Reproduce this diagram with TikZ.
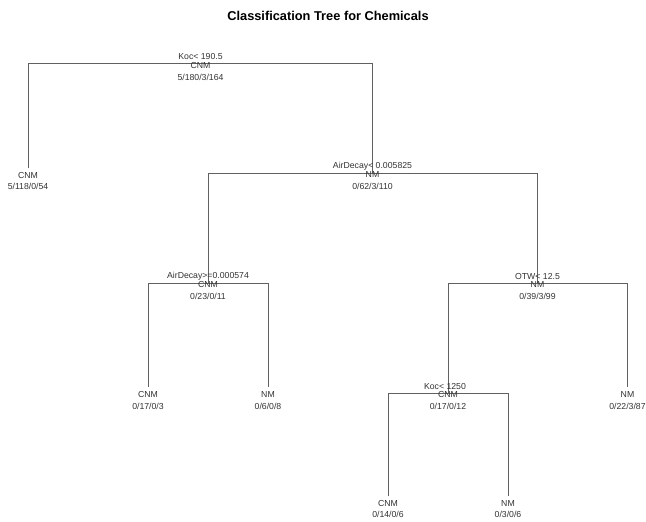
\documentclass[tikz,border=0pt]{standalone}
\usepackage{fontspec}
\setmainfont{Liberation Sans}
\begin{document}
\begin{tikzpicture}[x=1pt,y=-1pt,
  edge/.style={draw=black!62,line width=0.8pt},
  lbl/.style={inner sep=0pt,text=black!80,font=\fontsize{8.7}{9}\selectfont},
  ttl/.style={inner sep=0pt,font=\fontsize{12.8}{14}\selectfont\bfseries}]
\useasboundingbox (0,0) rectangle (646,522);
\node[ttl] (title) at (328,16) {Classification Tree for Chemicals};
% split points
\coordinate (n1) at (200.5,63.5);
\coordinate (n2) at (372.5,173);
\coordinate (n3) at (208,283);
\coordinate (n4) at (537.5,283);
\coordinate (n5) at (448,393.5);
% leaf ends
\coordinate (l1) at (28,168);
\coordinate (l2) at (148,387);
\coordinate (l3) at (268,387);
\coordinate (l4) at (627.5,387);
\coordinate (l5) at (388,496);
\coordinate (l6) at (508,496);
% connectors
\draw[edge] (l1) -- (l1 |- n1) -- (n2 |- n1) -- (n2);
\draw[edge] (n3) -- (n3 |- n2) -- (n4 |- n2) -- (n4);
\draw[edge] (l2) -- (l2 |- n3) -- (l3 |- n3) -- (l3);
\draw[edge] (n5) -- (n5 |- n4) -- (l4 |- n4) -- (l4);
\draw[edge] (l5) -- (l5 |- n5) -- (l6 |- n5) -- (l6);
% internal node labels
\node[lbl] (n1s) at ([yshift=6.5pt]n1) {Koc< 190.5};
\node[lbl] (n1c) at ([yshift=-2pt]n1) {CNM};
\node[lbl] (n1n) at ([yshift=-13.5pt]n1) {5/180/3/164};
\node[lbl] (n2s) at ([yshift=6.5pt]n2) {AirDecay< 0.005825};
\node[lbl] (n2c) at ([yshift=-2pt]n2) {NM};
\node[lbl] (n2n) at ([yshift=-13pt]n2) {0/62/3/110};
\node[lbl] (n3s) at ([yshift=6.5pt]n3) {AirDecay>=0.000574};
\node[lbl] (n3c) at ([yshift=-2pt]n3) {CNM};
\node[lbl] (n3n) at ([yshift=-13pt]n3) {0/23/0/11};
\node[lbl] (n4s) at ([yshift=6.5pt]n4) {OTW< 12.5};
\node[lbl] (n4c) at ([yshift=-2pt]n4) {NM};
\node[lbl] (n4n) at ([yshift=-13pt]n4) {0/39/3/99};
\node[lbl] (n5s) at ([xshift=-3pt,yshift=6.5pt]n5) {Koc< 1250};
\node[lbl] (n5c) at ([yshift=-1.5pt]n5) {CNM};
\node[lbl] (n5n) at ([yshift=-12.5pt]n5) {0/17/0/12};
% leaf labels
\node[lbl] (l1c) at ([yshift=-7.5pt]l1) {CNM};
\node[lbl] (l1n) at ([yshift=-18.5pt]l1) {5/118/0/54};
\node[lbl] (l2c) at ([yshift=-8pt]l2) {CNM};
\node[lbl] (l2n) at ([yshift=-19pt]l2) {0/17/0/3};
\node[lbl] (l3c) at ([yshift=-8pt]l3) {NM};
\node[lbl] (l3n) at ([yshift=-19pt]l3) {0/6/0/8};
\node[lbl] (l4c) at ([yshift=-8pt]l4) {NM};
\node[lbl] (l4n) at ([yshift=-19pt]l4) {0/22/3/87};
\node[lbl] (l5c) at ([yshift=-7.5pt]l5) {CNM};
\node[lbl] (l5n) at ([yshift=-18pt]l5) {0/14/0/6};
\node[lbl] (l6c) at ([yshift=-7.5pt]l6) {NM};
\node[lbl] (l6n) at ([yshift=-18pt]l6) {0/3/0/6};
\end{tikzpicture}
\end{document}
